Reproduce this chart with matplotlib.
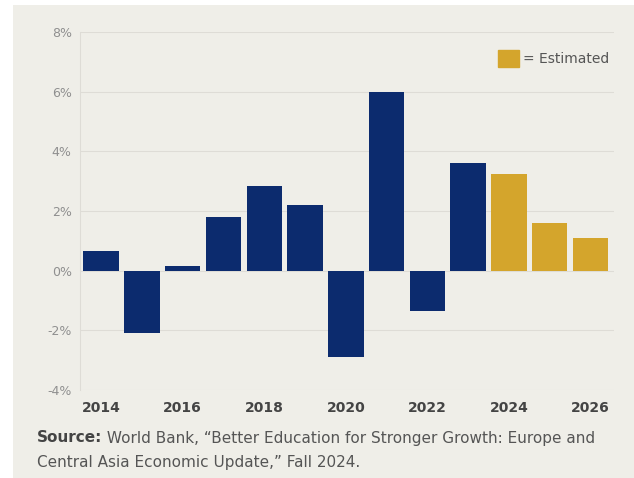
import matplotlib.pyplot as plt
from matplotlib.patches import Rectangle, Patch
from matplotlib.transforms import offset_copy

years = list(range(2014, 2027))
growth = [0.65, -2.1, 0.15, 1.8, 2.85, 2.2, -2.9, 6.0, -1.35, 3.6, 3.25, 1.6, 1.1]
estimated = [False] * 10 + [True] * 3
yticks = [-4, -2, 0, 2, 4, 6, 8]
xticks = [2014, 2016, 2018, 2020, 2022, 2024, 2026]

NAVY = "#0c2b6e"
GOLD = "#d4a52c"
BG = "#efeee8"

plt.rcParams['font.family'] = ['DejaVu Sans']

fig = plt.figure(figsize=(6.34, 4.78), dpi=100, facecolor="white")
# beige card behind the chart
fig.patches.append(Rectangle((13 / 634, 0), 1, 1 - 5 / 478, transform=fig.transFigure,
                             facecolor=BG, edgecolor="none", zorder=-10))

ax = fig.add_axes([80 / 634, 1 - 390 / 478, (614 - 80) / 634, (390 - 32) / 478])
ax.set_facecolor(BG)

colors = [GOLD if e else NAVY for e in estimated]
ax.bar(years, growth, width=0.87, color=colors, zorder=3)

ax.set_xlim(2013.48, 2026.58)
ax.set_ylim(-4, 8)
ax.set_yticks(yticks)
ax.set_yticklabels([f"{t}%" for t in yticks], color="#8f8f8f", fontsize=9)
ax.set_xticks(xticks)
ax.set_xticklabels([str(t) for t in xticks], fontweight="bold", color="#444444", fontsize=10)
ax.tick_params(length=0, pad=6)
ax.tick_params(axis="x", pad=8)
ax.grid(axis="y", color="#dedcd6", linewidth=0.8, zorder=0)

for s in ["top", "right", "bottom"]:
    ax.spines[s].set_visible(False)
ax.spines["left"].set_color("#dedcd6")

ax.legend(handles=[Patch(color=GOLD, label="= Estimated")], loc="upper right",
          bbox_to_anchor=(1.015, 0.985), frameon=False, fontsize=10,
          handlelength=1.5, handleheight=1.5, handletextpad=0.3, labelcolor="#555555")

# source note: bold lead-in, then regular text right after it
src = fig.text(37 / 634, 1 - 438 / 478, "Source:", fontsize=11, fontweight="bold",
               color="#444444", va="center")
fig.canvas.draw()
w = src.get_window_extent().width
fig.text(37 / 634, 1 - 438 / 478,
         " World Bank, \u201cBetter Education for Stronger Growth: Europe and",
         fontsize=11, color="#555555", va="center",
         transform=offset_copy(fig.transFigure, fig=fig, x=w * 72 / fig.dpi, y=0, units="points"))
fig.text(37 / 634, 1 - 463 / 478, "Central Asia Economic Update,\u201d Fall 2024.",
         fontsize=11, color="#555555", va="center")

fig.savefig("out.png", dpi=100, facecolor=fig.get_facecolor())
